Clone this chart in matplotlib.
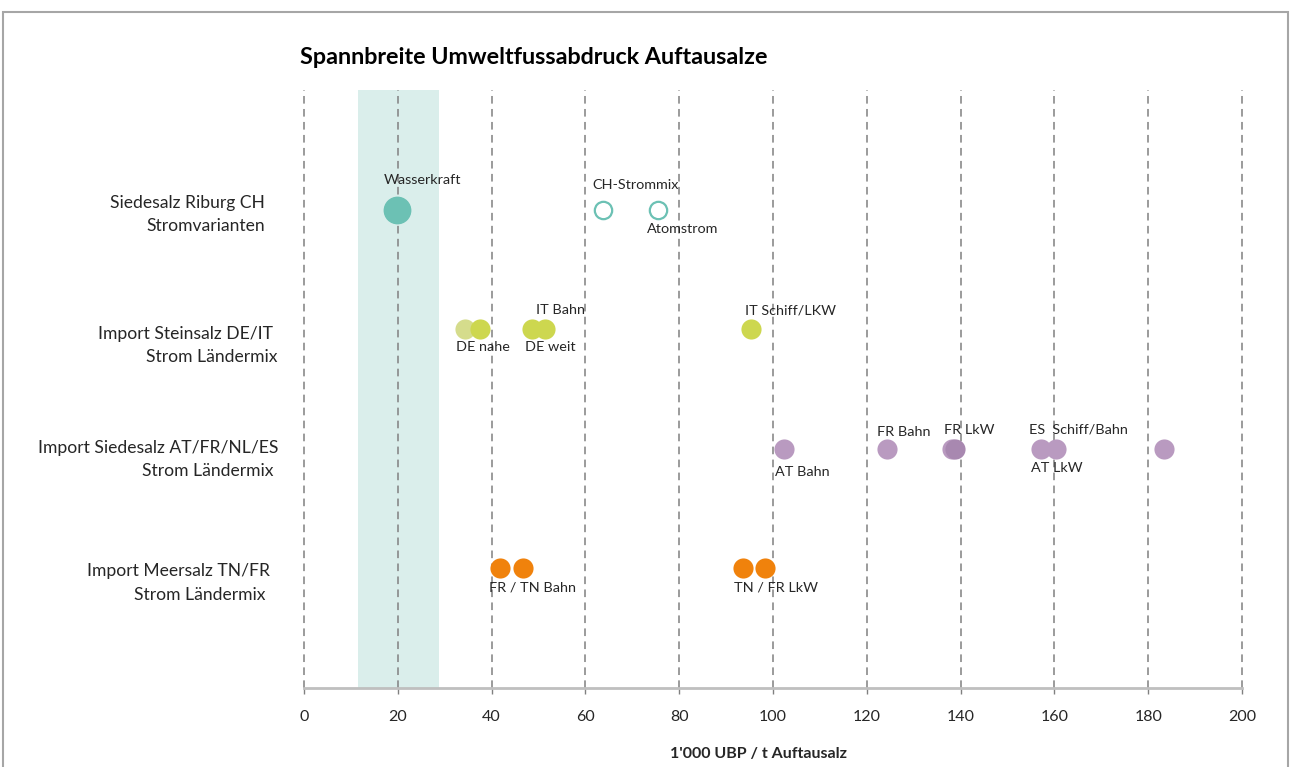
import numpy as np
import matplotlib.pyplot as plt
from matplotlib.patches import Rectangle

plt.rcParams['font.family'] = ['Lato', 'DejaVu Sans']

# row categories (bottom to top) and their y positions
row_labels = [('Import Meersalz TN/FR', 'Strom Ländermix'),
              ('Import Siedesalz AT/FR/NL/ES', 'Strom Ländermix'),
              ('Import Steinsalz DE/IT', 'Strom Ländermix'),
              ('Siedesalz Riburg CH', 'Stromvarianten')]
row_pos = [1, 2, 3, 4]

# values in 1'000 UBP / t Auftausalz
riburg_vals = [19.8, 63.7, 75.5]
riburg_names = ['Wasserkraft', 'CH-Strommix', 'Atomstrom']
steinsalz_vals = [34.3, 37.5, 48.6, 51.4, 95.3]
steinsalz_names = ['DE nahe', '', 'DE weit', 'IT Bahn', 'IT Schiff/LKW']
siedesalz_vals = [102.3, 124.3, 138.2, 138.8, 157.1, 160.3, 183.4]
siedesalz_names = ['AT Bahn', 'FR Bahn', '', 'FR LkW', 'ES  Schiff/Bahn', 'AT LkW', '']
meersalz_vals = [41.8, 46.7, 93.6, 98.3]
meersalz_names = ['FR / TN Bahn', '', 'TN / FR LkW', '']

band = (11.5, 28.8)
xticks_vals = np.arange(0, 201, 20)

teal = '#6cc1b4'
lime = '#cdd74f'
lime_light = '#d5dc8c'
lilac = '#b99ac0'
lilac_dark = '#a888b0'
orange = '#f0820c'
txt = '#262626'

fig = plt.figure(figsize=(12.9, 7.67), dpi=100)
ax = fig.add_axes([304/1290, 1-688/767, 938/1290, 598/767])
ax.set_xlim(0, 200)
ax.set_ylim(0, 5)

ax.axvspan(band[0], band[1], color='#daeeeb', zorder=0, lw=0)

ax.set_xticks(xticks_vals)
ax.grid(axis='x', color='#808080', linestyle=(0, (5, 3.5)), linewidth=1.1, zorder=1)
for gl in ax.get_xgridlines():
    gl.set_clip_on(False)
ax.set_yticks([])
for s in ['top', 'right', 'left']:
    ax.spines[s].set_visible(False)
ax.spines['bottom'].set_color('#bfbfbf')
ax.spines['bottom'].set_linewidth(2)
ax.tick_params(axis='x', length=4, width=1, color='#808080', labelsize=11.5, pad=12, labelcolor=txt)

ms = 14.5

# Riburg: Wasserkraft filled and bigger, the others hollow
ax.plot(riburg_vals[0], row_pos[3], 'o', ms=19, color=teal, mec=teal, zorder=3)
ax.plot(riburg_vals[1:], [row_pos[3]] * 2, 'o', ms=12.5, mfc='white', mec=teal, mew=1.6, zorder=3)

st_colors = [lime_light, lime, lime, lime, lime]
for v, c in zip(steinsalz_vals, st_colors):
    ax.plot(v, row_pos[2], 'o', ms=ms, color=c, mec='none', zorder=3)

sd_colors = [lilac, lilac, lilac, lilac_dark, lilac, lilac, lilac]
for v, c in zip(siedesalz_vals, sd_colors):
    ax.plot(v, row_pos[1], 'o', ms=ms, color=c, mec='none', zorder=3)

for v in meersalz_vals:
    ax.plot(v, row_pos[0], 'o', ms=ms, color=orange, mec='none', zorder=3)

# point labels: offsets in pixels from the marker centre
label_offsets = {
    'Wasserkraft': (-13, 30), 'CH-Strommix': (-10, 25), 'Atomstrom': (-11, -19),
    'DE nahe': (-9, -18), 'DE weit': (-7, -18), 'IT Bahn': (-9, 19), 'IT Schiff/LKW': (-6, 19),
    'AT Bahn': (-9, -23), 'FR Bahn': (-10, 17), 'FR LkW': (-11, 19),
    'ES  Schiff/Bahn': (-12, 19), 'AT LkW': (-25, -19),
    'FR / TN Bahn': (-11, -19), 'TN / FR LkW': (-9, -19),
}
groups = [(riburg_vals, riburg_names, row_pos[3]),
          (steinsalz_vals, steinsalz_names, row_pos[2]),
          (siedesalz_vals, siedesalz_names, row_pos[1]),
          (meersalz_vals, meersalz_names, row_pos[0])]
for vals, names, y in groups:
    for v, n in zip(vals, names):
        if not n:
            continue
        dx, dy = label_offsets[n]
        ax.annotate(n, (v, y), xytext=(dx, dy), textcoords='offset pixels',
                    ha='left', va='center', fontsize=10.4, color=txt, zorder=4)

# row category labels, two lines each (pixel offsets from the axis start)
row_text_pos = [((-34, -3), (-39, -27)), ((-26, 1), (-31, -22)),
                ((-31, -5), (-26, -28)), ((-39, 7), (-39, -16))]
for (l1, l2), y, (p1, p2) in zip(row_labels, row_pos, row_text_pos):
    for t, p in ((l1, p1), (l2, p2)):
        ax.annotate(t, (0, y), xycoords=('axes fraction', 'data'), xytext=p,
                    textcoords='offset pixels', ha='right', va='center',
                    fontsize=12.6, color=txt, annotation_clip=False)

ax.set_xlabel("1'000 UBP / t Auftausalz", fontsize=11.5, fontweight='bold',
              color=txt, labelpad=12)
ax.xaxis.set_label_coords((759 - 304) / 938, -59 / 598)

fig.text(300/1290, 1-57/767, 'Spannbreite Umweltfussabdruck Auftausalze',
         ha='left', va='center', fontsize=16.8, fontweight='bold', color='black')

fig.patches.append(Rectangle((3/1290, -0.05), 1285/1290, 1.05 - 12/767,
                             transform=fig.transFigure, fill=False,
                             edgecolor='#a6a6a6', lw=1.5))

fig.savefig('out.png', dpi=100)
